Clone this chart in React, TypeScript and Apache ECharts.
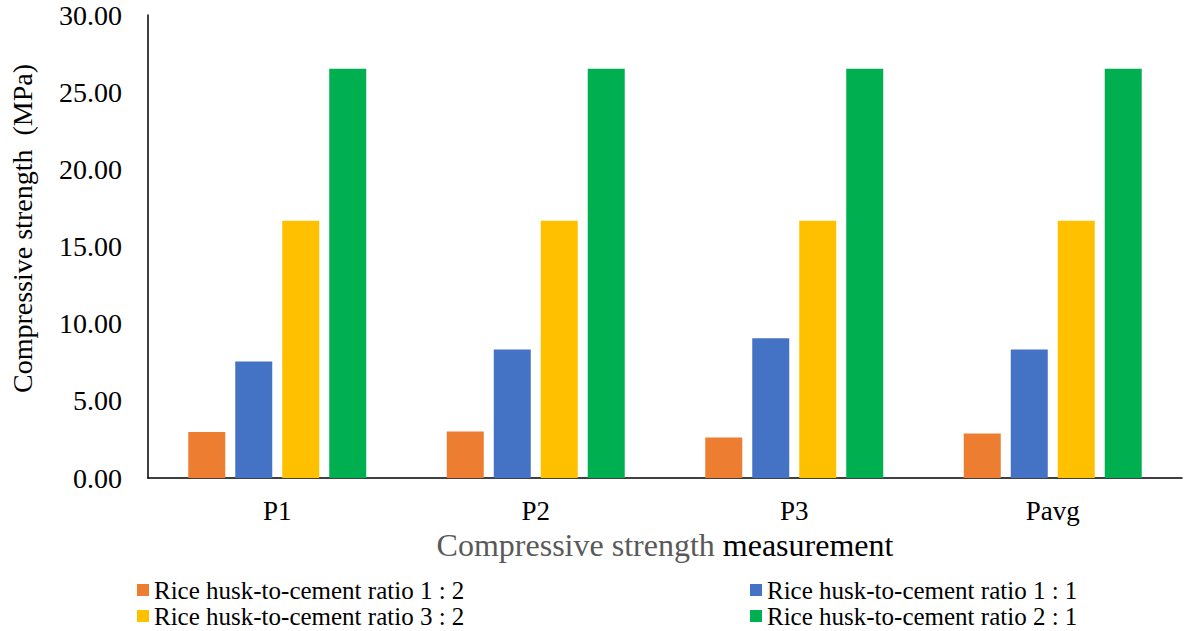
import React, { useEffect, useRef } from "react";
import * as echarts from "echarts";

const categories = ["P1", "P2", "P3", "Pavg"];
const seriesNames = [
  "Rice husk-to-cement ratio 1 : 2",
  "Rice husk-to-cement ratio 1 : 1",
  "Rice husk-to-cement ratio 3 : 2",
  "Rice husk-to-cement ratio 2 : 1",
];
const ratio12 = [2.98, 3.01, 2.62, 2.88];
const ratio11 = [7.55, 8.33, 9.06, 8.33];
const ratio32 = [16.67, 16.67, 16.67, 16.67];
const ratio21 = [26.52, 26.52, 26.52, 26.52];
const colors = ["#ED7D31", "#4472C4", "#FFC000", "#00B050"];
const yTicks = { min: 0, max: 30, interval: 5 };

const FONT = "'Liberation Serif', 'Times New Roman', serif";

export default function App() {
  const ref = useRef<HTMLDivElement>(null);
  useEffect(() => {
    if (!ref.current) return;
    document.body.style.margin = "0";
    const chart = echarts.init(ref.current, undefined, { renderer: "svg" });
    const values = [ratio12, ratio11, ratio32, ratio21];
    const legendText = { fontFamily: FONT, fontSize: 25, color: "#000", lineHeight: 26 };
    const legendBase = {
      orient: "vertical",
      top: 577,
      padding: 0,
      height: 54,
      icon: "rect",
      itemWidth: 12,
      itemHeight: 12,
      itemGap: 0,
      textStyle: legendText,
      selectedMode: false,
    };
    chart.setOption({
      animation: false,
      textStyle: { fontFamily: FONT },
      grid: { left: 148, right: 5, top: 15, bottom: 153, containLabel: false },
      legend: [
        { ...legendBase, left: 137, data: [seriesNames[0], seriesNames[2]] },
        { ...legendBase, left: 750, data: [seriesNames[1], seriesNames[3]] },
      ],
      xAxis: {
        type: "category",
        data: categories,
        axisLine: { lineStyle: { color: "#000", width: 1.5 } },
        axisTick: { show: false },
        axisLabel: { fontFamily: FONT, fontSize: 27, color: "#000", margin: 19 },
        name: "{a|Compressive strength} {b|measurement}",
        nameLocation: "middle",
        nameGap: 49,
        nameTextStyle: {
          fontFamily: FONT,
          fontSize: 32,
          rich: {
            a: { fontFamily: FONT, fontSize: 32, color: "#595959" },
            b: { fontFamily: FONT, fontSize: 32, color: "#000" },
          },
        },
      },
      yAxis: {
        type: "value",
        min: yTicks.min,
        max: yTicks.max,
        interval: yTicks.interval,
        axisLine: { show: true, lineStyle: { color: "#000", width: 1.5 } },
        axisTick: { show: false },
        splitLine: { show: false },
        axisLabel: {
          fontFamily: FONT,
          fontSize: 28,
          color: "#000",
          margin: 26,
          formatter: (v: number) => v.toFixed(2),
        },
        name: "Compressive strength  (MPa)",
        nameLocation: "middle",
        nameGap: 112,
        nameTextStyle: { fontFamily: FONT, fontSize: 28, color: "#000", padding: [0, 0, 0, 36] },
      },
      series: values.map((vals, i) => ({
        name: seriesNames[i],
        type: "bar",
        data: vals,
        barWidth: 37,
        barGap: "27%",
        itemStyle: { color: colors[i] },
      })),
    });
    return () => chart.dispose();
  }, []);
  return <div ref={ref} style={{ width: 1187, height: 631 }} />;
}
